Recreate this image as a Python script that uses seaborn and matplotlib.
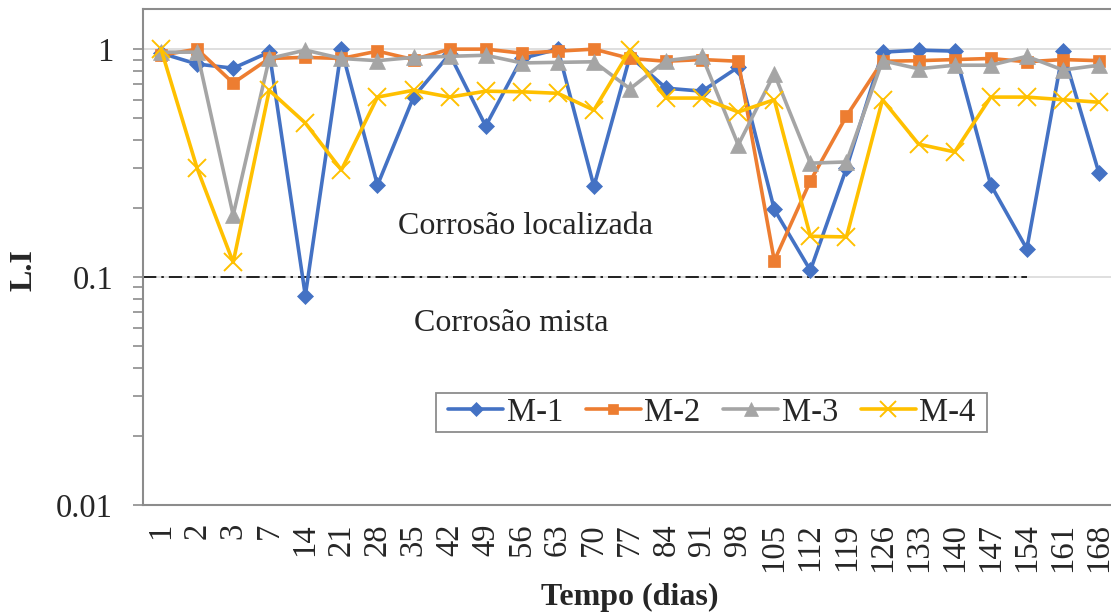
import numpy as np
import pandas as pd
import matplotlib
matplotlib.use("Agg")
import matplotlib.pyplot as plt
from matplotlib.ticker import FixedLocator, NullFormatter
from matplotlib.patches import Rectangle
import seaborn as sns

days = ["1", "2", "3", "7", "14", "21", "28", "35", "42", "49", "56", "63", "70", "77",
        "84", "91", "98", "105", "112", "119", "126", "133", "140", "147", "154", "161", "168"]

m1 = [0.96, 0.86, 0.825, 0.97, 0.083, 1.0, 0.253, 0.616, 0.95, 0.46, 0.91, 1.0, 0.25, 0.93,
      0.674, 0.654, 0.834, 0.198, 0.107, 0.30, 0.97, 0.99, 0.98, 0.254, 0.133, 0.98, 0.286]
m2 = [0.94, 1.0, 0.71, 0.91, 0.92, 0.91, 0.98, 0.90, 1.0, 1.0, 0.96, 0.98, 1.0, 0.91,
      0.885, 0.90, 0.885, 0.118, 0.264, 0.508, 0.885, 0.89, 0.90, 0.91, 0.88, 0.90, 0.89]
m3 = [0.97, 0.97, 0.187, 0.91, 0.99, 0.91, 0.89, 0.92, 0.93, 0.94, 0.87, 0.875, 0.88, 0.67,
      0.89, 0.93, 0.38, 0.78, 0.316, 0.32, 0.89, 0.82, 0.85, 0.85, 0.93, 0.81, 0.85]
m4 = [1.0, 0.30, 0.116, 0.66, 0.474, 0.295, 0.616, 0.66, 0.616, 0.654, 0.65, 0.64, 0.54, 0.99,
      0.61, 0.61, 0.53, 0.60, 0.151, 0.15, 0.60, 0.383, 0.354, 0.616, 0.616, 0.60, 0.585]

series_names = ["M-1", "M-2", "M-3", "M-4"]
colors = ["#4472C4", "#ED7D31", "#A5A5A5", "#FFC000"]
markers = ["D", "s", "^", "x"]
marker_sizes = [8, 9, 12, 13]

threshold = 0.1
threshold_span = [-0.5, 24]

sns.set_theme(style="white")
plt.rcParams['font.family'] = ['Liberation Serif', 'DejaVu Serif']

rows = []
for name, vals in zip(series_names, [m1, m2, m3, m4]):
    for i, v in enumerate(vals):
        rows.append({"idx": i, "dia": days[i], "LI": v, "serie": name})
df = pd.DataFrame(rows)

fig = plt.figure(figsize=(11.11, 6.16), dpi=100)
ax = fig.add_axes([143 / 1111, 111 / 616, 974 / 1111, 496 / 616])

gridc = "#D9D9D9"
axc = "#8C8C8C"

ax.set_yscale("log")
ax.set_ylim(0.01, 1.5)
ax.set_xlim(-0.5, 26.5)

for yv in [0.1, 1.0]:
    ax.axhline(yv, color=gridc, lw=1.2, zorder=0)

ax.hlines(threshold, threshold_span[0], threshold_span[1], colors="black",
          linestyles=(0, (8, 3, 1.5, 3)), lw=1.2, zorder=1)

for name, c, mk, ms in zip(series_names, colors, markers, marker_sizes):
    sub = df[df["serie"] == name]
    sns.lineplot(data=sub, x="idx", y="LI", ax=ax, color=c, lw=2.6,
                 marker=mk, markersize=ms, markeredgecolor=c,
                 markeredgewidth=1.4 if mk == "x" else 0.5,
                 label=name, zorder=3, legend=False)

ax.set_xticks(range(len(days)))
ax.set_xticklabels(days, rotation=90, fontsize=23.5)
ax.xaxis.set_minor_locator(FixedLocator(np.arange(0.5, 27, 2)))
ax.tick_params(axis="x", which="major", length=0, pad=13)
ax.tick_params(axis="x", which="minor", direction="inout", length=11, width=1.2, color=axc)

ax.set_yticks([0.01, 0.1, 1])
ax.set_yticklabels(["0.01", "0.1", "1"], fontsize=23.5)
ax.yaxis.set_minor_formatter(NullFormatter())
ax.tick_params(axis="y", which="major", direction="out", length=7.5, width=1.2, color=axc, left=True, pad=14)
ax.tick_params(axis="y", which="minor", direction="out", length=7, width=1.2, color=axc, left=True)

for s in ["left", "bottom", "top", "right"]:
    ax.spines[s].set_color(axc)
    ax.spines[s].set_linewidth(1.5)

ax.set_xlabel("Tempo (dias)", fontsize=23, fontweight="bold", labelpad=8)
ax.set_ylabel("L.I", fontsize=23, fontweight="bold", va="center")
ax.yaxis.set_label_coords(-0.122, 0.474)

ax.text(10.1, 0.1675, "Corrosão localizada", fontsize=23, ha="center", va="center")
ax.text(9.7, 0.0628, "Corrosão mista", fontsize=23, ha="center", va="center")

handles, labels = ax.get_legend_handles_labels()
leg = ax.legend(handles, labels, loc="center", bbox_to_anchor=(0.584, 0.1865), ncol=4,
                fontsize=23.5, frameon=False, handlelength=1.69, markerscale=0.85,
                handletextpad=0.1, columnspacing=0.7, borderpad=0.0, borderaxespad=0)

fig.canvas.draw()
bb = leg.get_window_extent()
frame = Rectangle((bb.x0 - 12, bb.y0 - 4), bb.width + 24, bb.height + 8, transform=None,
                  fill=False, edgecolor=axc, lw=1.3, zorder=5)
fig.add_artist(frame)

fig.savefig("out.png", dpi=100)
